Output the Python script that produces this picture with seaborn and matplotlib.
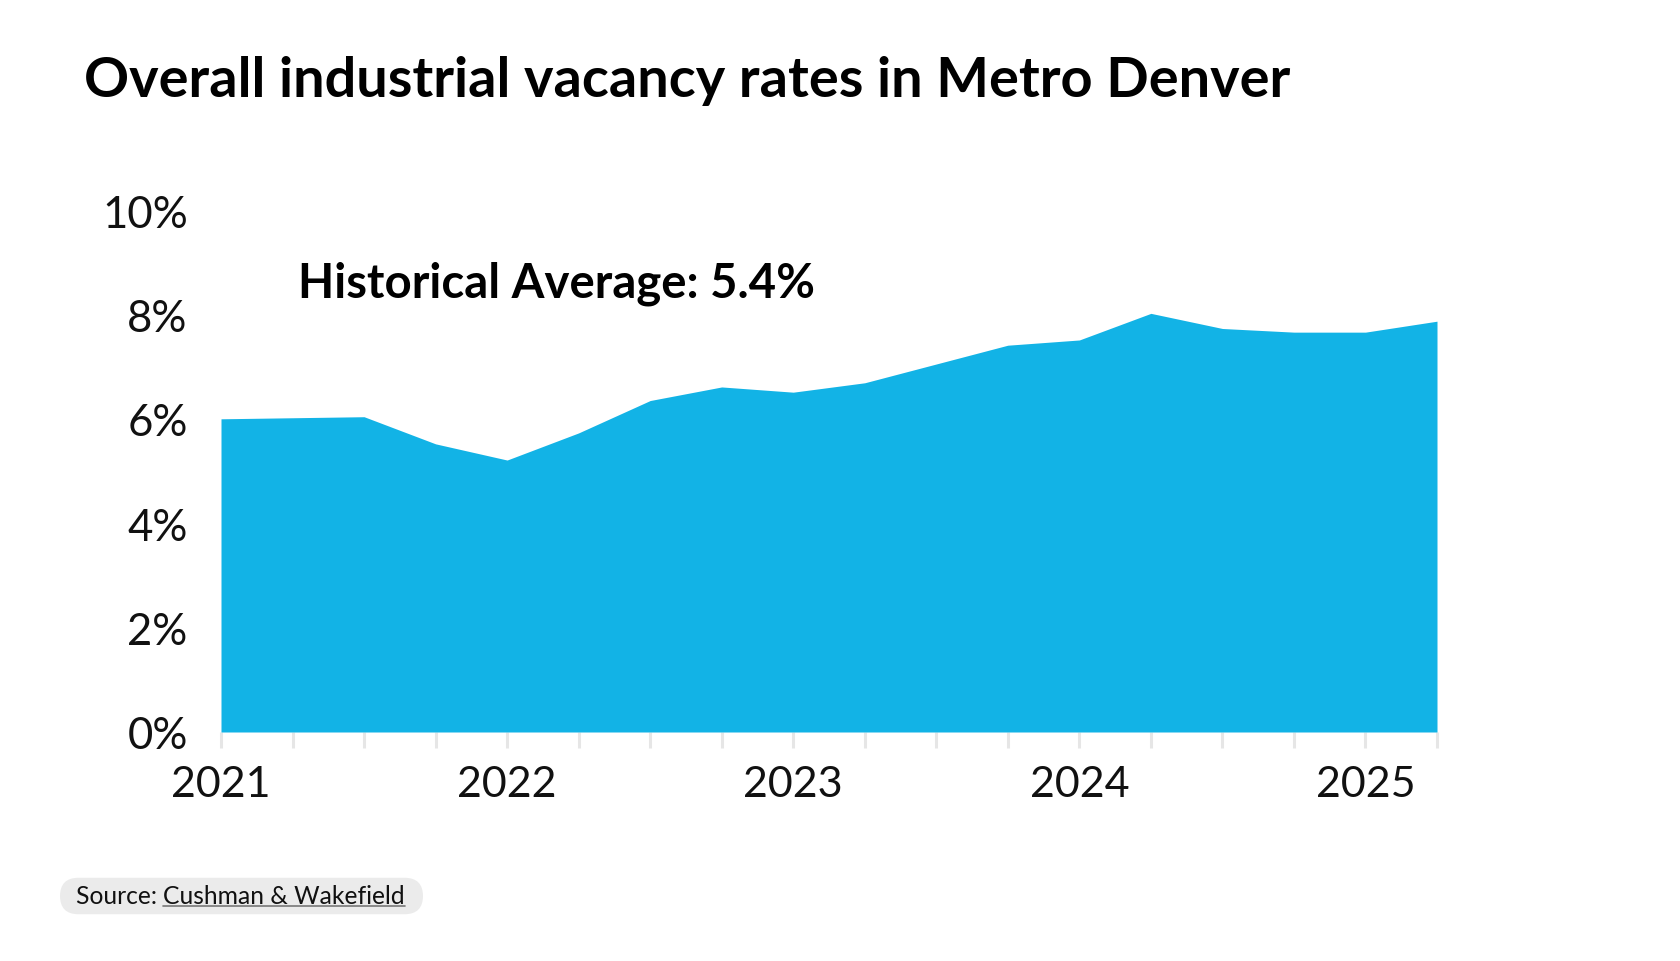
import matplotlib
matplotlib.use("Agg")
import matplotlib.pyplot as plt
import seaborn as sns
import pandas as pd
from matplotlib.patches import FancyBboxPatch
from matplotlib.lines import Line2D

# ---- data ----
quarters = [2021.00, 2021.25, 2021.50, 2021.75,
            2022.00, 2022.25, 2022.50, 2022.75,
            2023.00, 2023.25, 2023.50, 2023.75,
            2024.00, 2024.25, 2024.50, 2024.75,
            2025.00, 2025.25]
vacancy = [6.00, 6.02, 6.04, 5.52,
           5.21, 5.73, 6.35, 6.61,
           6.51, 6.69, 7.05, 7.41,
           7.51, 8.02, 7.73, 7.66,
           7.66, 7.87]
year_ticks = [2021, 2022, 2023, 2024, 2025]
year_labels = ["2021", "2022", "2023", "2024", "2025"]
y_ticks = [0, 2, 4, 6, 8, 10]
y_labels = ["0%", "2%", "4%", "6%", "8%", "10%"]
title = "Overall industrial vacancy rates in Metro Denver"
annotation = "Historical Average: 5.4%"
source_prefix = "Source: "
source_name = "Cushman & Wakefield"

FILL = "#12B3E6"
FONT = ["Lato", "DejaVu Sans"]

sns.set_theme(style="white")
plt.rcParams["font.family"] = FONT

df = pd.DataFrame({"quarter": quarters, "vacancy": vacancy})

W, H = 1680, 962
fig = plt.figure(figsize=(W / 100, H / 100), dpi=100)
fig.patch.set_facecolor("white")
ax = fig.add_axes([221 / W, 1 - 733 / H, (1437 - 221) / W, (733 - 211) / H])

sns.lineplot(data=df, x="quarter", y="vacancy", ax=ax, color=FILL, linewidth=0)
ax.fill_between(df["quarter"], 0, df["vacancy"], color=FILL, linewidth=0)

ax.set_xlim(quarters[0], quarters[-1])
ax.set_ylim(0, 10)
ax.set_xlabel("")
ax.set_ylabel("")
for s in ax.spines.values():
    s.set_visible(False)

ax.xaxis.remove_overlapping_locs = False
ax.set_xticks(year_ticks)
ax.set_xticklabels(year_labels)
ax.set_xticks(quarters, minor=True)
ax.tick_params(axis="x", which="major", bottom=False, length=0,
               labelsize=31, pad=24, labelcolor="#111111")
# quarterly tick marks
ax.tick_params(axis="x", which="minor", bottom=True, length=11.5, width=2.2,
               color="#e6e6e6", direction="out")

ax.set_yticks(y_ticks)
ax.set_yticklabels(y_labels)
ax.tick_params(axis="y", length=0, labelsize=31.5, pad=24, labelcolor="#111111")
ax.grid(False)

fig.text(84 / W, 1 - 97 / H, title, fontsize=40.2, fontweight="bold",
         color="#000000", va="baseline", ha="left")
fig.text(298 / W, 1 - 284 / H, annotation, fontsize=34, fontweight="bold",
         color="#000000", va="center", ha="left")

# source pill
pill = FancyBboxPatch((60 / W + 0.011, 1 - 916 / H + 0.02), (423 - 60) / W - 0.022, (916 - 878) / H - 0.04,
                      boxstyle="round,pad=0.011,rounding_size=0.011",
                      transform=fig.transFigure, facecolor="#ebebeb", edgecolor="none",
                      mutation_aspect=W / H)
fig.patches.append(pill)
t1 = fig.text(76 / W, 1 - 897 / H, source_prefix, fontsize=17.7, color="#111111",
              va="center", ha="left")
fig.canvas.draw()
r = fig.canvas.get_renderer()
bb1 = t1.get_window_extent(r)
t2 = fig.text(bb1.x1 / W, 1 - 897 / H, source_name, fontsize=17.7, color="#111111",
              va="center", ha="left")
fig.canvas.draw()
bb2 = t2.get_window_extent(r)
uy = 1 - 907 / H
fig.lines.append(Line2D([bb2.x0 / W, bb2.x1 / W], [uy, uy], transform=fig.transFigure,
                        color="#777777", linewidth=1.2))

fig.savefig("out.png", dpi=100, facecolor="white")
